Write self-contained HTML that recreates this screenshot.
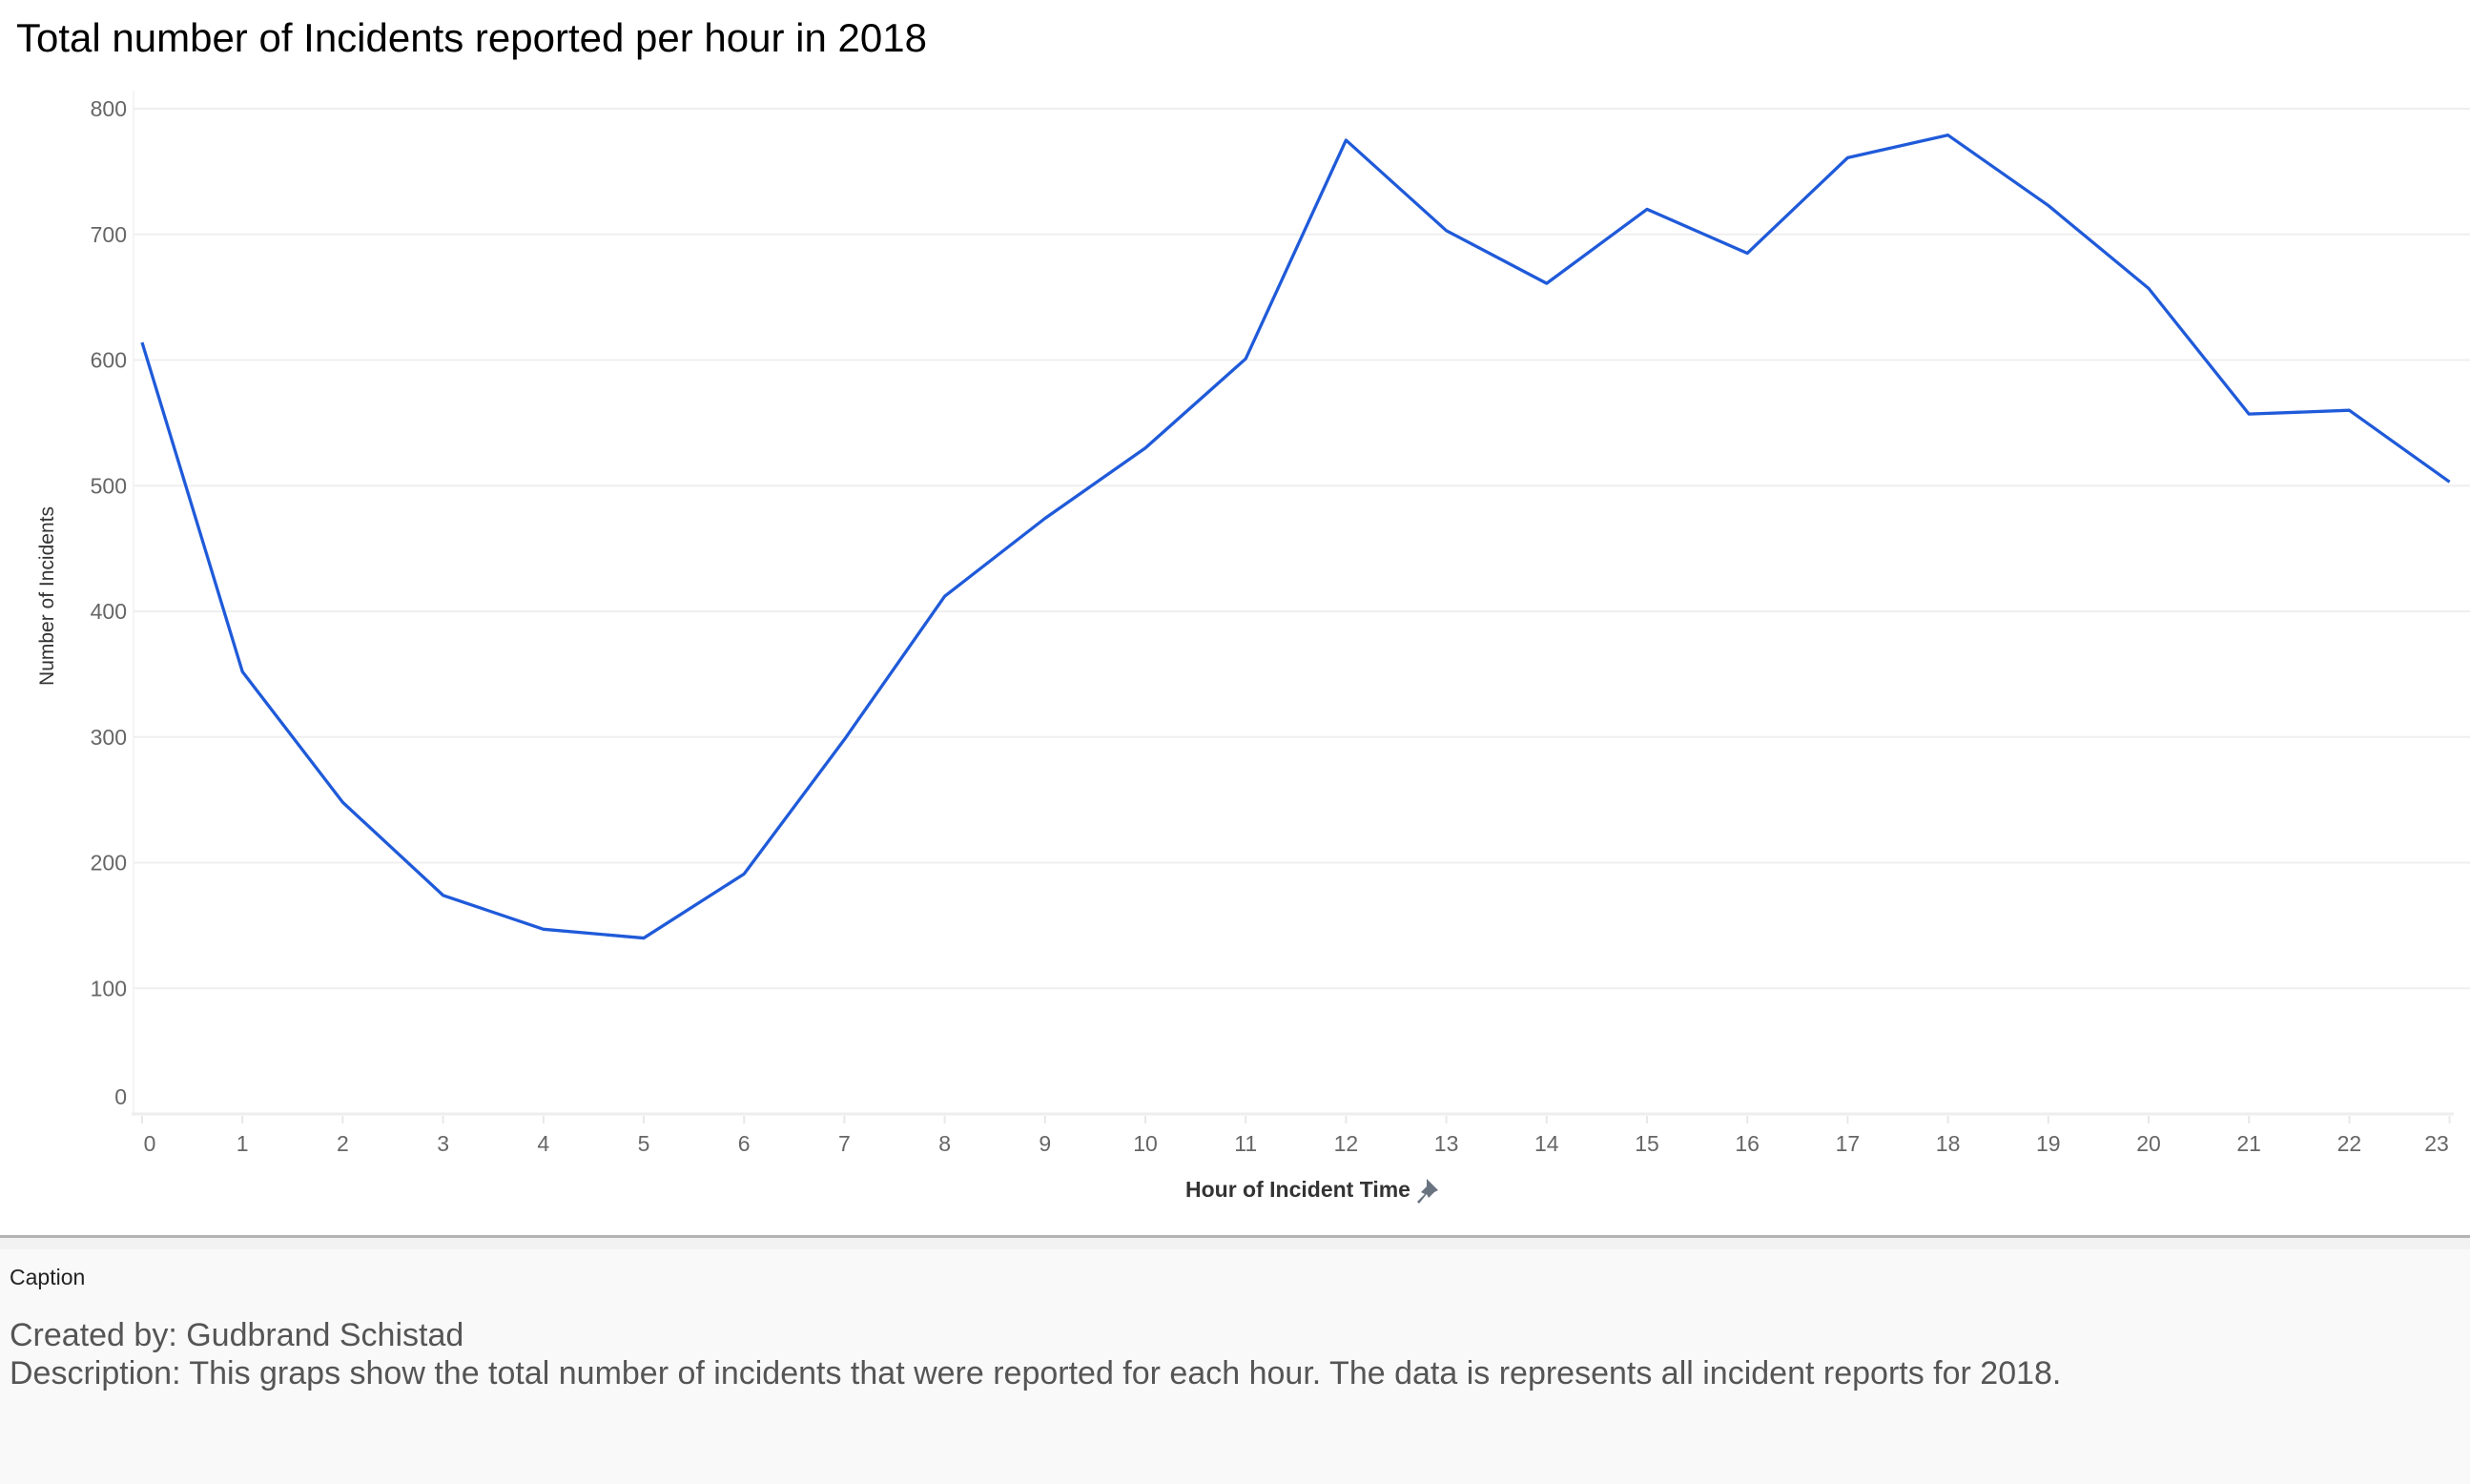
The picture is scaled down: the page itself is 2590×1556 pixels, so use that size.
<!DOCTYPE html>
<html><head><meta charset="utf-8"><style>
body{margin:0;width:2590px;height:1556px;background:#fff;overflow:hidden;font-family:"Liberation Sans",Arial,sans-serif;position:relative}
#title{position:absolute;left:17px;top:16px;font-size:42px;color:#000}
#cap{position:absolute;left:0;top:1310px;width:2590px;height:246px;background:#f9f9f9}
</style></head><body>
<div id="title">Total number of Incidents reported per hour in 2018</div>
<svg id="chart" width="2590" height="1300" style="position:absolute;left:0;top:0"></svg>
<div style="position:absolute;left:0;top:1295px;width:2590px;height:3px;background:#b4b4b4"></div>
<div style="position:absolute;left:0;top:1298px;width:2590px;height:12px;background:#f2f2f2;border-bottom:3px solid #d4d4d4"></div>
<div id="cap">
<div style="position:absolute;left:10px;top:16px;font-size:23px;color:#222">Caption</div>
<div style="position:absolute;left:10px;top:70px;font-size:34px;color:#555;line-height:40px">Created by: Gudbrand Schistad<br>Description: This graps show the total number of incidents that were reported for each hour. The data is represents all incident reports for 2018.</div>
</div>
<script>
const hours=[0,1,2,3,4,5,6,7,8,9,10,11,12,13,14,15,16,17,18,19,20,21,22,23];
const incidents=[614,352,248,174,147,140,191,298,412,474,530,601,775,703,661,720,685,761,779,723,657,557,560,503];
const yTicks=[0,100,200,300,400,500,600,700,800];
const NS='http://www.w3.org/2000/svg';
const svg=document.getElementById('chart');
const x=h=>149+h*105.2;
const y=v=>1168-v*1.3175;
function mk(t,a){const e=document.createElementNS(NS,t);for(const k in a)e.setAttribute(k,a[k]);svg.appendChild(e);return e;}
const ax=mk('line',{x1:140,y1:95,x2:140,y2:1168,stroke:'#f4f4f4','stroke-width':2});


yTicks.forEach(v=>{
 if(v>0){const g=mk('line',{x1:140,x2:2590,y1:y(v),y2:y(v),stroke:'#efefef','stroke-width':2});
 
 }
 const t=mk('text',{x:133,y:v===0?y(v)-10:y(v)+8,'text-anchor':'end','font-size':23,fill:'#666'});
 t.textContent=v;
 
 
});
const base=mk('line',{x1:138,x2:2573,y1:1168,y2:1168,stroke:'#eeeeee','stroke-width':3});


hours.forEach(h=>{
 const tk=mk('line',{x1:x(h),x2:x(h),y1:1170,y2:1178,stroke:'#e8e8e8','stroke-width':2});
 
 
 const t=mk('text',{x:h===23?2555:x(h)+(h===0?8:0),y:1207,'text-anchor':'middle','font-size':23,fill:'#666'});
 t.textContent=h;
 
 
});
const p=mk('polyline',{points:hours.map((h,i)=>x(h)+','+y(incidents[i])).join(' '),fill:'none',stroke:'#1f5ad9','stroke-width':3.3,'stroke-linejoin':'round'});


const yt=mk('text',{x:0,y:0,transform:'translate(56,625) rotate(-90)','text-anchor':'middle','font-size':21,fill:'#333'});
yt.textContent='Number of Incidents';


const xt=mk('text',{x:1361,y:1255,'text-anchor':'middle','font-size':23,fill:'#333','font-weight':'bold'});
xt.textContent='Hour of Incident Time';


const pin=mk('path',{d:'M1496,1236 l12,12 l-4,2 l-6,6 l-2,-4 l-8,10 l-2,-2 l8,-8 l-4,-2 l6,-6 z',fill:'#6a7380'});


</script>
</body></html>
